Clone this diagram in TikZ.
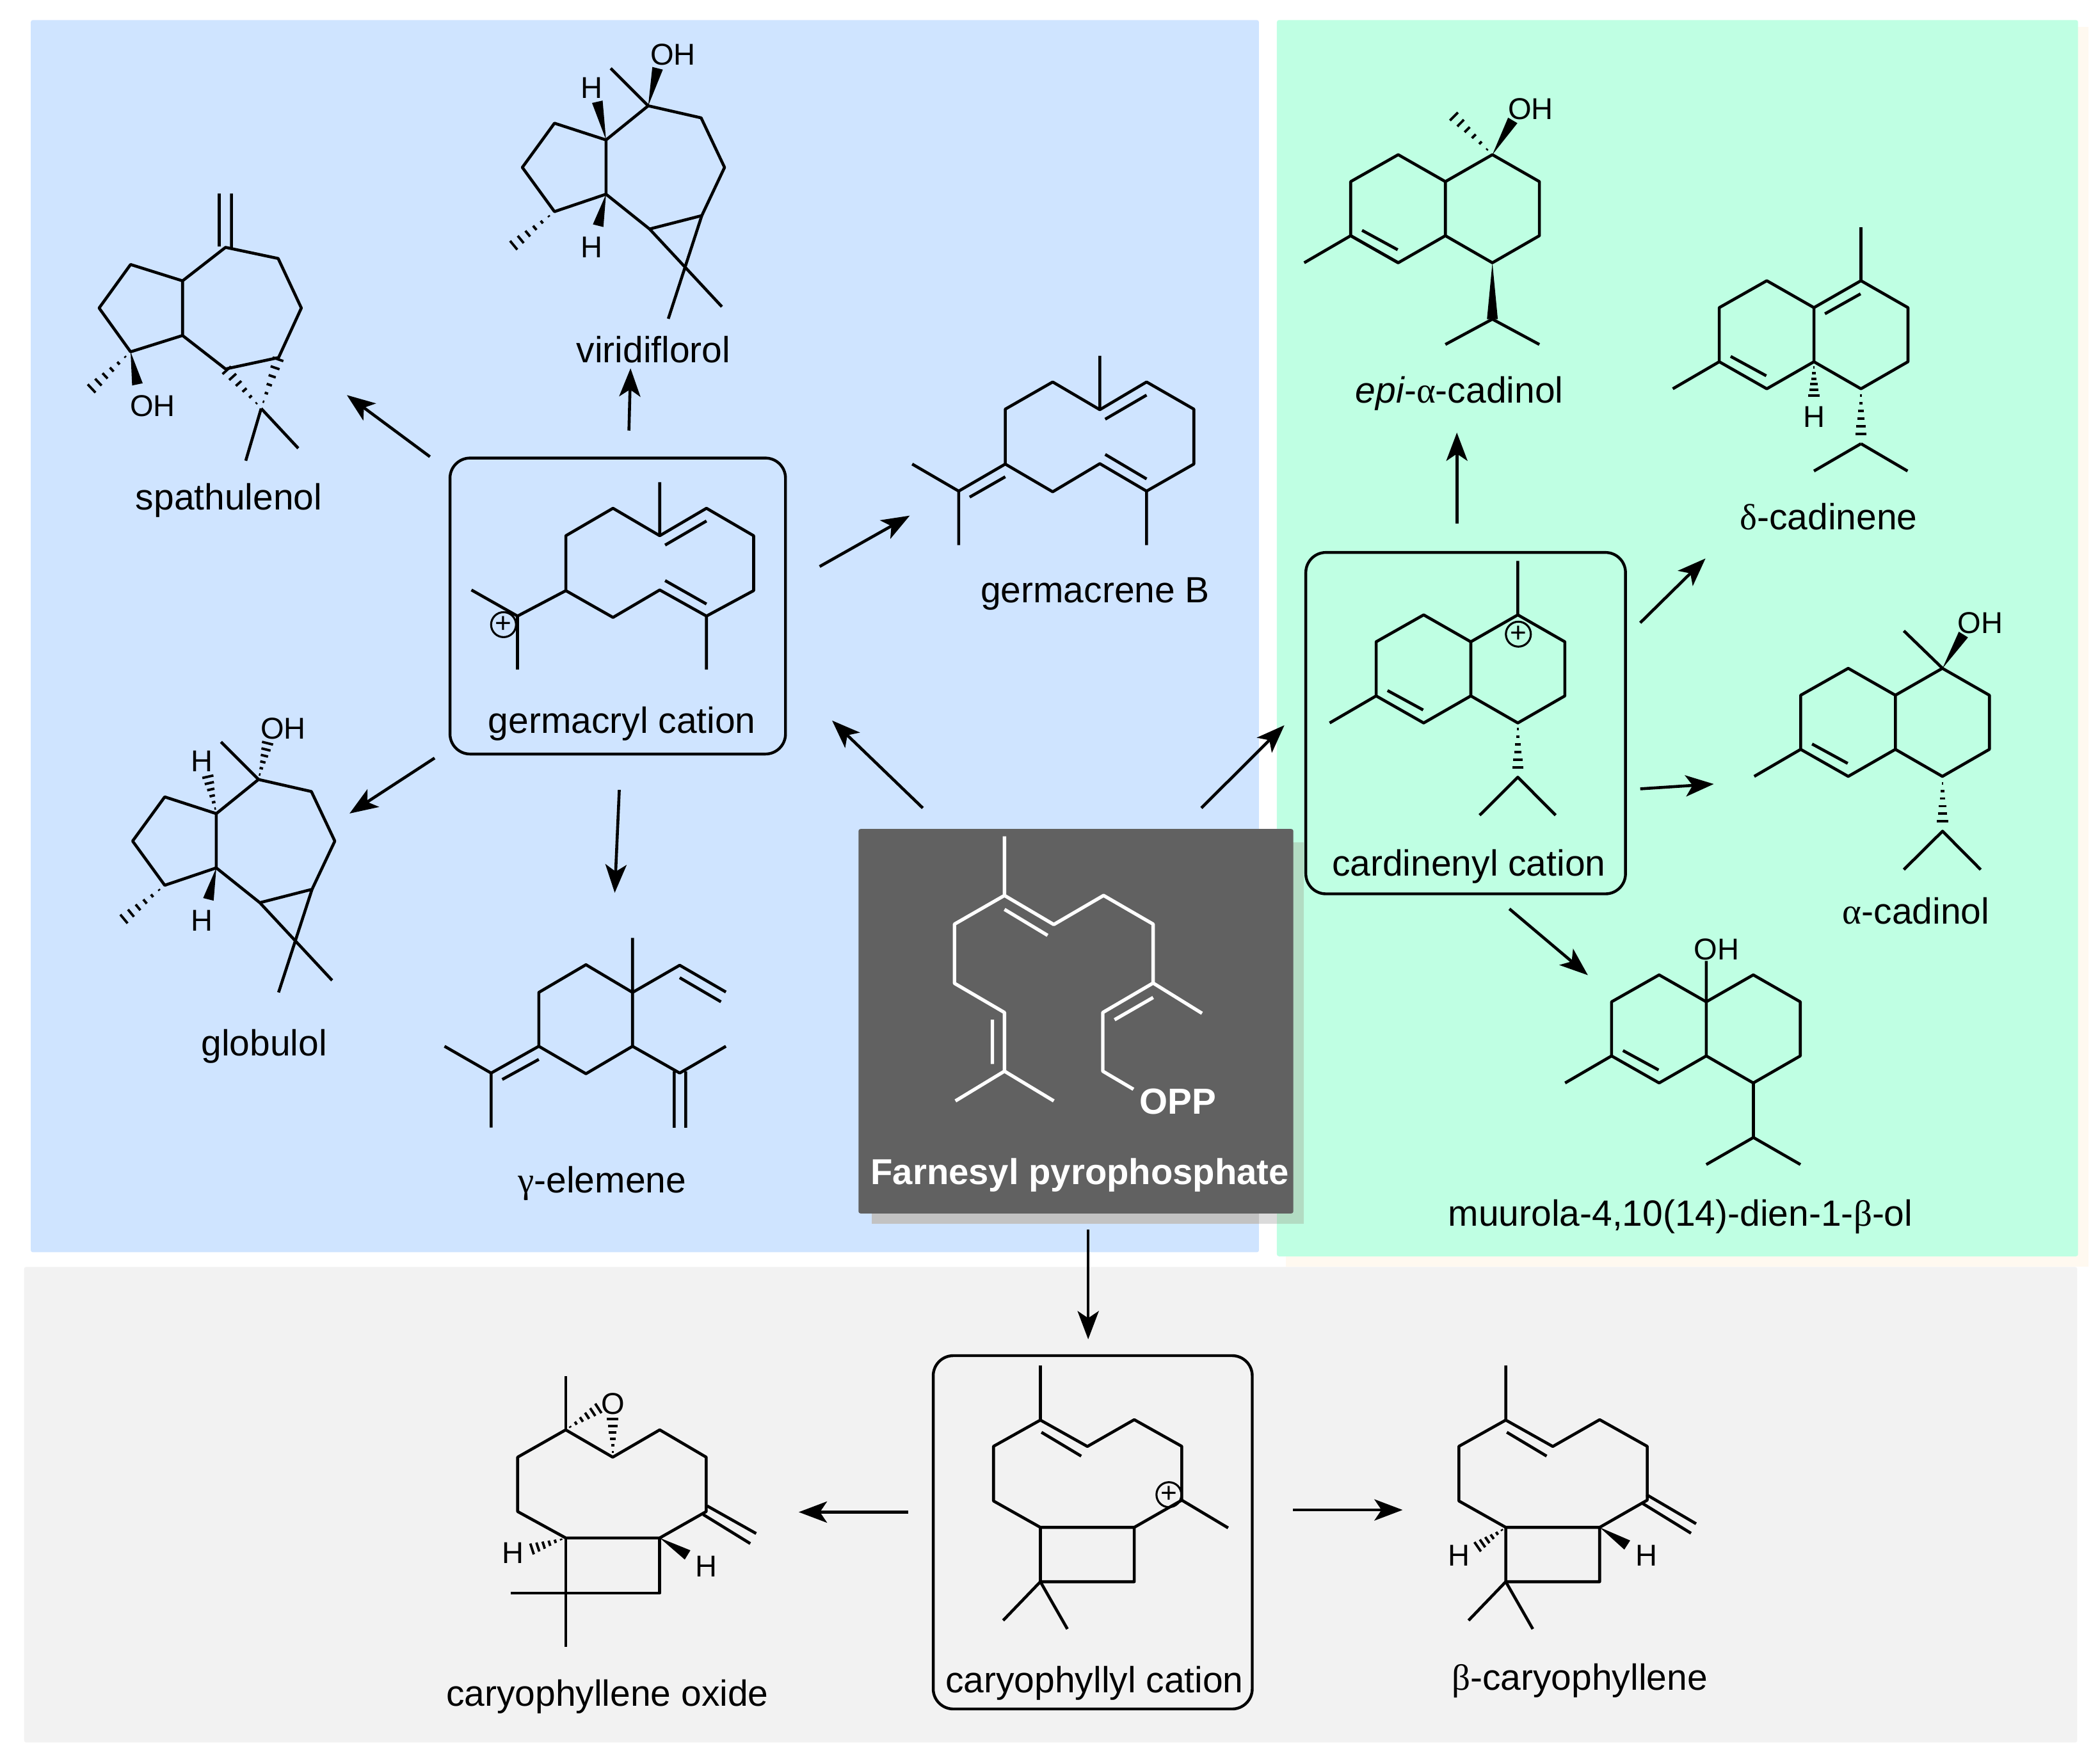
\documentclass[tikz,border=0pt]{standalone}
\usepackage{fontspec}
\setmainfont{Liberation Sans}
\newfontfamily\grk{Liberation Serif}
\usetikzlibrary{arrows.meta,calc}
\definecolor{bluepanel}{HTML}{CFE4FF}
\definecolor{greenpanel}{HTML}{BFFFE3}
\definecolor{greypanel}{HTML}{F2F2F2}
\definecolor{darkpanel}{HTML}{616161}
\definecolor{creamedge}{HTML}{FFF9F0}
\tikzset{
 panel/.style={rounded corners=.03cm},
 bond/.style={line width=1.25pt,line cap=butt,line join=round},
 wbond/.style={bond,line width=1.45pt,draw=white},
 rxn/.style={line width=1.25pt,-{Stealth[length=12pt,width=9pt,inset=3pt]}},
 cbox/.style={line width=1.2pt,rounded corners=.3cm},
 lbl/.style={anchor=base,font=\fontsize{15.5}{17}\selectfont,inner sep=0pt,yshift=-.02cm},
 atm/.style={font=\fontsize{12.8}{14}\selectfont,inner sep=0pt},
 chg/.style={draw,circle,line width=.85pt,inner sep=0pt,minimum size=10.6pt,font=\fontsize{12}{12}\selectfont},
}
\newcommand{\wdg}[2]{\fill #1 -- ($#2!2.3pt!90:#1$) -- ($#2!2.3pt!-90:#1$) -- cycle;}
\newcommand{\hsh}[2]{\foreach \i in {1,...,6} {
 \pgfmathsetmacro{\hp}{(\i-.2)/6}
 \pgfmathsetmacro{\hw}{\hp*2.5}
 \draw[line width=1.05pt] ($#1!\hp!#2!\hw pt!90:#2$) -- ($#1!\hp!#2!\hw pt!-90:#2$);
 }}
% decalin core, drawn at its epi-cadinol place
\newcommand{\deca}{
 \draw[bond] (1114.3,115.5) -- (1149.4,135.6) -- (1149.4,176) -- (1114.3,196.2) -- (1079.2,176) -- (1079.2,135.6) -- cycle;
 \draw[bond] (1079.2,135.6) -- (1044,115.5) -- (1008.5,135.6) -- (1008.5,176) -- (1044,196.2) -- (1079.2,176);
 \draw[bond] (1008.5,176) -- (973.8,196.2) (1017,172) -- (1043.6,186.5);
}
% guaiane core of viridiflorol and globulol
\newcommand{\guai}{
 \draw[bond] (484,79) -- (523.5,88) -- (541,125) -- (524,161) -- (485,171) -- (452.5,145) -- (452.5,104.5) -- cycle;
 \draw[bond] (452.5,104.5) -- (414,92) -- (390,125) -- (414,158) -- (452.5,145);
 \draw[bond] (485,171) -- (539,229) (524,161) -- (499,238);
 \draw[bond] (484,79) -- (456,51);
 \hsh{(414,158)}{(382.5,184)}
 \wdg{(452.5,145)}{(446.6,168.5)}
 \node[atm] at (442,184.5) {H};
 \node[atm] at (442,65.5) {H};
 \node[atm] at (502.5,41) {OH};
}
% caryophyllane core
\newcommand{\cary}{
 \draw[bond] (776.8,1060.3) -- (741.8,1079.9) -- (741.8,1120.7) -- (776.8,1140.4) -- (846.9,1140.4) -- (846.9,1181) -- (776.8,1181) -- (776.8,1140.4);
 \draw[bond] (776.8,1060.3) -- (811.9,1080) -- (846.9,1060) -- (882.4,1079.9) -- (882.4,1120.1) -- (846.9,1140.4);
 \draw[bond] (776.8,1019.5) -- (776.8,1060.3) (777.6,1069.4) -- (807.3,1087.2);
 \draw[bond] (749,1209.9) -- (776.8,1181) -- (797,1216.3);
}
\begin{document}
\begin{tikzpicture}[x=.02cm,y=-.02cm]
\useasboundingbox (0,0) rectangle (1568,1317);
\fill[bluepanel,panel] (23,15) rectangle (940,935);
\fill[creamedge] (960,20) rectangle (1559.5,946);
\fill[greenpanel,panel] (953.4,15) rectangle (1551.6,938);
\fill[greypanel,panel] (18,946) rectangle (1551,1301);
\fill[black!24] (651,629) rectangle (940,913.6);
\fill[black!14] (940,629) rectangle (953.4,913.6);
\fill[fill={rgb,255:red,178;green,220;blue,195}] (953.4,629) rectangle (973.3,913.6);
\fill[darkpanel,panel] (641,619) rectangle (965.7,906);

% reaction arrows
\foreach \n/\xa/\ya/\xb/\yb in {
 a/689/603.3/621.3/538, b/897/603.3/959/541.5, c/812.5/918/812.5/1000,
 d/321/341/259/295, e/469.6/321.5/470.8/275, f/612/423/679.3/385,
 g/324.5/566/261/607.4, h/462.4/589.8/459/666.6,
 i/1087.8/390.7/1087.8/323, j/1224.7/465/1273.4/417, k/1224.7/589/1279.6/585.4, l/1127/678.6/1185.6/728.1,
 m/678/1129/596.4/1129, o/965.4/1127.4/1047.3/1127.4} {
 \coordinate (s\n) at (\xa,\ya);
 \coordinate (t\n) at (\xb,\yb);
 \draw[rxn] (s\n) -- (t\n);
 }

% farnesyl pyrophosphate
\draw[wbond] (750,624.4) -- (750,668.6) -- (712.7,690) -- (712.7,734.2) -- (750,756) -- (750,799.8) -- (713.4,822);
\draw[wbond] (750,799.8) -- (786.8,822) (741,761.4) -- (741,794.4);
\draw[wbond] (750,668.6) -- (786.8,690.3) -- (824,668.6) -- (861,690) -- (861,734) -- (897.5,756.6);
\draw[wbond] (750,679) -- (782.2,698.4) (861,734) -- (823.4,756) -- (823.4,799.8) -- (846.3,813.3) (832.2,761.4) -- (861,744.8);
\node[anchor=base,inner sep=0pt,text=white,font=\fontsize{15.4}{18}\selectfont\bfseries] (opp) at (879.5,831.7) {OPP};
\node[anchor=base,inner sep=0pt,text=white,font=\fontsize{15.3}{18}\selectfont\bfseries] (fpp) at (806.3,884.5) {Farnesyl pyrophosphate};

% germacryl cation
\draw[cbox] (336,342) rectangle (586.5,563);
\draw[bond] (492.6,400) -- (457.7,379.5) -- (422.5,400) -- (422.5,441) -- (457.7,461) -- (492.6,440.5) -- (527.5,460) -- (562.7,441) -- (562.7,400) -- (527.5,379.5) -- cycle;
\draw[bond] (492.6,360) -- (492.6,400) (496.6,407) -- (527.5,389) (496.6,433.5) -- (527.5,451) (527.5,460) -- (527.5,500);
\draw[bond] (422.5,441) -- (386.4,460) -- (352,440.5) (386.4,460) -- (386.4,500);
\node[chg] (plusa) at (376,466.4) {+};
\node[lbl] (germacryl) at (464.4,546.4) {germacryl cation};

% germacrene B
\draw[bond] (821.2,305.9) -- (786,285.2) -- (750.6,305.5) -- (750.6,346.5) -- (786,367.2) -- (821.2,346.2) -- (856.1,366.7) -- (891.4,346.5) -- (891.4,305.5) -- (856.1,285.2) -- cycle;
\draw[bond] (821.2,265.7) -- (821.2,305.9) (825.2,313) -- (856.1,295) (825.2,339.3) -- (856.1,357.6) (856.1,366.7) -- (856.1,407);
\draw[bond] (750.6,346.5) -- (715.8,366.7) -- (681.1,346.5) (715.8,366.7) -- (715.8,407) (724,371.2) -- (750.6,356);
\node[lbl] (germacrene) at (817.7,449) {germacrene B};

% spathulenol
\draw[bond] (168.4,184.7) -- (207.7,193) -- (225,230) -- (208,267) -- (168.4,275.5) -- (136.3,250.5) -- (136.3,209.7) -- cycle;
\draw[bond] (136.3,209.7) -- (97.5,197.5) -- (74,230) -- (97.5,262.7) -- (136.3,250.5);
\draw[bond] (163.7,184) -- (163.7,144.5) (172.8,186) -- (172.8,144.5) (195,305) -- (183.5,344) (195,305) -- (222.7,334.7);
\hsh{(97.5,262.7)}{(67.4,291)}
\wdg{(97.5,262.7)}{(102.6,287)}
\hsh{(195,305)}{(168.4,275.5)}
\hsh{(195,305)}{(208,267)}
\node[atm] (ohspa) at (114,303) {OH};
\node[lbl] (spathulenol) at (170.9,379.5) {spathulenol};

% viridiflorol
\guai
\wdg{(484,79)}{(491,51)}
\wdg{(452.5,104.5)}{(446,76)}
\node[lbl] (viridiflorol) at (487.9,269.7) {viridiflorol};

% globulol
\begin{scope}[shift={(-291,503)}]
\guai
\hsh{(484,79)}{(491,51)}
\hsh{(452.5,104.5)}{(446,76)}
\end{scope}
\node[lbl] (globulol) at (197.2,787.3) {globulol};

% gamma-elemene
\draw[bond] (472.3,741) -- (437.5,720.3) -- (402.3,741) -- (402.3,781.2) -- (437.5,801.7) -- (472.3,781.2) -- cycle;
\draw[bond] (472.3,700.3) -- (472.3,741) -- (507.5,720.7) -- (542,740.7) (507.5,730) -- (538.3,748);
\draw[bond] (402.3,781.2) -- (366.7,801.2) -- (331.9,781.2) (366.7,801.2) -- (366.7,841.9) (375,806) -- (402.3,791);
\draw[bond] (472.3,781.2) -- (507.5,801.2) -- (542,781.2) (503.4,800) -- (503.4,842) (512,800) -- (512,842);
\node[lbl] (elemene) at (449.6,889.5) {{\grk γ}-elemene};

% epi-alpha-cadinol
\deca
\draw[bond] (1008.5,176) -- (1044,196.2) (1079.2,257.2) -- (1114.3,238.3) -- (1149.4,257.2);
\hsh{(1114.3,115.5)}{(1084.6,86)}
\wdg{(1114.3,115.5)}{(1129.5,89.9)}
\wdg{(1114.3,196.2)}{(1114.3,238.3)}
\node[atm] (ohepi) at (1142.9,81.3) {OH};
\node[lbl] (epicad) at (1089.7,300) {{\itshape epi}-{\grk α}-cadinol};

% delta-cadinene
\begin{scope}[shift={(275.2,94.1)}]
\deca
\end{scope}
\draw[bond] (1389.5,169.7) -- (1389.5,209.6) (1362.6,234.3) -- (1389.2,219.4) (1389.5,331.3) -- (1354.4,351.7) (1389.5,331.3) -- (1424.3,351.7);
\hsh{(1354.4,271.2)}{(1354.4,296)}
\hsh{(1389.5,290.7)}{(1389.5,325)}
\node[atm] (hdel) at (1354.4,311.5) {H};
\node[lbl] (delcad) at (1365.3,394.7) {{\grk δ}-cadinene};

% cardinenyl cation
\draw[cbox] (975,412.5) rectangle (1213.7,667.4);
\begin{scope}[shift={(19,343.6)}]
\deca
\end{scope}
\draw[bond] (1133.3,418.8) -- (1133.3,459.1) (1104.8,608.7) -- (1133.3,580.3) -- (1161.5,608.7);
\hsh{(1133.3,540)}{(1133.3,574)}
\node[chg] (plusb) at (1133.7,473.5) {+};
\node[lbl] (cardinenyl) at (1096.7,653) {cardinenyl cation};

% alpha-cadinol
\begin{scope}[shift={(336,383.5)}]
\deca
\end{scope}
\draw[bond] (1450.4,499) -- (1421.5,471) (1421.5,649.3) -- (1450.4,620.6) -- (1478.9,649.3);
\wdg{(1450.4,499)}{(1466,473.8)}
\hsh{(1450.4,580.3)}{(1450.4,614.4)}
\node[atm] (ohalp) at (1478.5,465) {OH};
\node[lbl] (alpcad) at (1430.6,689) {{\grk α}-cadinol};

% muurola
\begin{scope}[shift={(194.8,612.4)}]
\deca
\end{scope}
\draw[bond] (1274,748) -- (1274,717.5) (1309.2,809) -- (1309.2,849.3) -- (1274,869.5) (1309.2,849.3) -- (1344.3,869.5);
\node[atm] (ohmuu) at (1281.8,708.7) {OH};
\node[lbl] (muurola) at (1254.7,914.2) {muurola-4,10(14)-dien-1-{\grk β}-ol};

% caryophyllene oxide
\draw[bond] (422.4,1067.6) -- (386.5,1088) -- (386.5,1128.6) -- (422.4,1148.3) -- (492.6,1148.3) -- (527.3,1128.6) -- (527.3,1088) -- (492.6,1067.6) -- (457.5,1088) -- cycle;
\draw[bond] (422.4,1027.7) -- (422.4,1067.6) (422.4,1148.3) -- (422.4,1229.8) (381.4,1189.5) -- (492.6,1189.5) -- (492.6,1148.3);
\draw[bond] (528,1124.4) -- (564.6,1145) (525,1130.8) -- (560.2,1152.5);
\hsh{(422.4,1067.6)}{(447.6,1051)}
\hsh{(457.5,1088)}{(457.5,1058.7)}
\hsh{(422.4,1148.3)}{(396.4,1156.8)}
\wdg{(492.6,1148.3)}{(513.4,1161)}
\node[atm] (oxy) at (457.5,1048.4) {O};
\node[atm] (hoxa) at (383,1159.4) {H};
\node[atm] (hoxb) at (527.5,1169.5) {H};
\node[lbl] (caroxide) at (453.5,1273) {caryophyllene oxide};

% caryophyllyl cation
\draw[cbox] (696.8,1012.2) rectangle (935,1276);
\cary
\draw[bond] (882.4,1120.1) -- (917,1140.8);
\node[chg] (plusc) at (872.8,1116) {+};
\node[lbl] (caryl) at (817.2,1262.8) {caryophyllyl cation};

% beta-caryophyllene
\begin{scope}[shift={(347.5,0)}]
\cary
\end{scope}
\draw[bond] (1229.4,1116) -- (1266.4,1137.7) (1226.4,1122.5) -- (1262.6,1144.8);
\hsh{(1124.3,1140.4)}{(1102.6,1155.4)}
\wdg{(1194.4,1140.4)}{(1215,1153.6)}
\node[atm] (hcara) at (1089.2,1161.3) {H};
\node[atm] (hcarb) at (1229.4,1161.3) {H};
\node[lbl] (betacar) at (1179.5,1261) {{\grk β}-caryophyllene};
\end{tikzpicture}
\end{document}
